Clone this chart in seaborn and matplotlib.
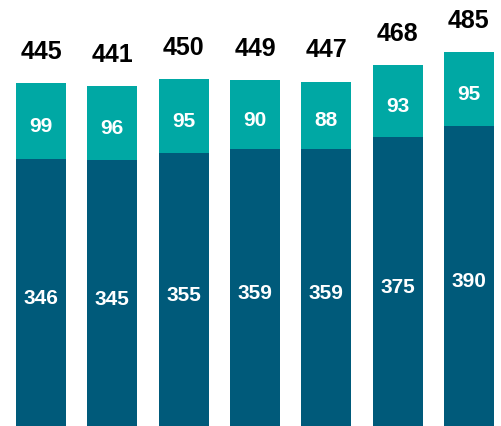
import matplotlib
matplotlib.use("Agg")
import matplotlib.pyplot as plt
import seaborn as sns
import pandas as pd

sns.set_theme(style="white")
plt.rcParams["font.family"] = ["Liberation Sans", "DejaVu Sans"]

periods = ["P1", "P2", "P3", "P4", "P5", "P6", "P7"]
base_values = [346, 345, 355, 359, 359, 375, 390]
top_values = [99, 96, 95, 90, 88, 93, 95]
totals = [445, 441, 450, 449, 447, 468, 485]

dark = "#005A7A"
light = "#00A8A4"

df = pd.DataFrame({"period": periods, "base": base_values,
                   "top": top_values, "total": totals})

fig = plt.figure(figsize=(5.01, 4.26), dpi=100)
ax = fig.add_axes([0, 0, 1, 1])

sns.barplot(data=df, x="period", y="total", color=light, width=0.70,
            saturation=1, linewidth=0, ax=ax)
sns.barplot(data=df, x="period", y="base", color=dark, width=0.70,
            saturation=1, linewidth=0, ax=ax)

for i, (b, t, tot) in enumerate(zip(base_values, top_values, totals)):
    ax.text(i, b / 2 - 8, f"{b}", ha="center", va="center", color="white",
            fontsize=15, fontweight="bold")
    ax.text(i, b + t / 2 - 7, f"{t}", ha="center", va="center", color="white",
            fontsize=15, fontweight="bold")
    ax.text(i, tot + 41, f"{tot}", ha="center", va="center", color="black",
            fontsize=18, fontweight="bold")

ax.set_xlim(-0.575, 6.45)
ax.set_ylim(0, 553)
ax.axis("off")

fig.savefig("out.png", dpi=100)
